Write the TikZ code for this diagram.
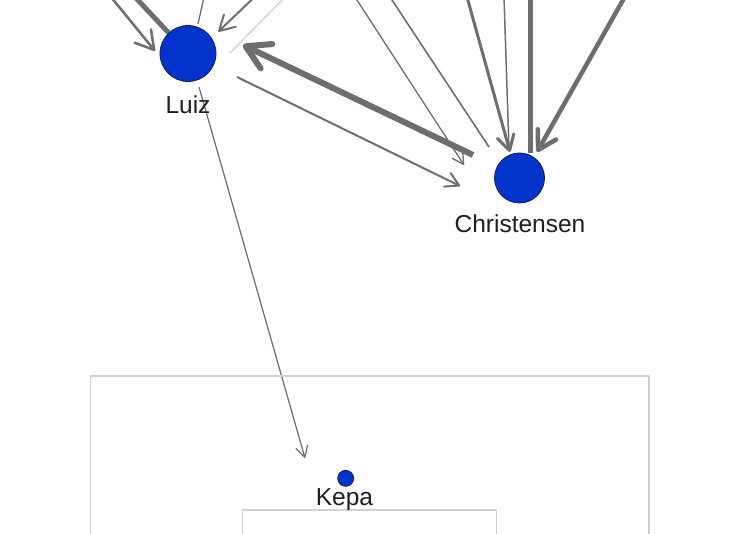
\documentclass[tikz,border=0pt]{standalone}
\usepackage{fontspec}
\setmainfont{Liberation Sans}
\usetikzlibrary{arrows.meta}
\definecolor{edgec}{RGB}{110,110,110}
\definecolor{faintc}{RGB}{200,200,200}
\definecolor{vblue}{RGB}{2,52,204}
\definecolor{vborder}{RGB}{20,30,90}
\definecolor{boxc}{RGB}{210,210,210}
\pgfdeclarelayer{back}
\pgfdeclarelayer{bg}
\pgfsetlayers{back,bg,main}
\begin{document}
\begin{tikzpicture}[x=1pt,y=-1pt,
  vertex/.style={circle,fill=vblue,draw=vborder,line width=0.8pt,inner sep=0pt},
  lbl/.style={anchor=base,font=\fontsize{24.5}{29}\selectfont,text=black!88,inner sep=0pt},
  edg/.style={draw=edgec,line cap=butt},
  pitch/.style={draw=boxc,line width=1.5pt},
  tipA/.style={-{Straight Barb[length=11pt,width=12pt,round]}},
  tipB/.style={-{Straight Barb[length=13pt,width=15pt,round]}},
  tipC/.style={-{Straight Barb[length=15pt,width=17pt,round]}},
  tipD/.style={-{Straight Barb[length=18pt,width=21pt,round]}},
  tipE/.style={-{Straight Barb[length=23pt,width=27pt,round]}}
]
\useasboundingbox (0,0) rectangle (730,534);
\clip (0,0) rectangle (730,534);
\begin{pgfonlayer}{back}
\fill[white] (0,0) rectangle (730,534);
\end{pgfonlayer}

% pitch lines
\draw[pitch] (90.7,560) -- (90.7,376) -- (649,376) -- (649,560);
\draw[pitch] (242.7,560) -- (242.7,510) -- (496.7,510) -- (496.7,560);

% vertices
\node[vertex,minimum size=56pt] (luiz) at (188,53.5) {};
\node[vertex,minimum size=50pt] (chr) at (519.5,178) {};
\node[vertex,minimum size=16pt] (kepa) at (345.7,478.3) {};

% labels
\node[lbl] (luizl) at (188,113.5) {Luiz};
\node[lbl] (chrl) at (520,233) {Christensen};
\node[lbl] (kepal) at (344.5,505) {Kepa};

% free ends beyond the top edge
\coordinate (t1) at (111,-3);
\coordinate (t2) at (135,-3);
\coordinate (t3) at (204,-3);
\coordinate (t4) at (254.5,-3);
\coordinate (t5) at (285,-3);
\coordinate (ta) at (355,-3);
\coordinate (tb) at (390,-3);
\coordinate (tc) at (467,-3);
\coordinate (td) at (504,-3);
\coordinate (te) at (530,-3);
\coordinate (tf) at (624.7,-3);

\begin{pgfonlayer}{bg}
% edges around Luiz
\draw[edg,line width=2.5pt,tipD] (t1) -- ([shift={(-33,-2.5)}]luiz.center);
\draw[edg,line width=5pt] (t2) -- (luiz);
\draw[edg,line width=1.3pt] ([shift={(10,-29.5)}]luiz.center) -- (t3);
\draw[edg,line width=2pt,tipC] (t4) -- ([shift={(30.3,-21.8)}]luiz.center);
\draw[draw=faintc,line width=1pt] ([shift={(42,-0.5)}]luiz.center) -- (t5);
\draw[edg,line width=6pt,tipE] ([shift={(-46.5,-23)}]chr.center) -- ([shift={(55,-8.5)}]luiz.center);
\draw[edg,line width=2pt,tipB] ([shift={(49,23.5)}]luiz.center) -- ([shift={(-59.5,8)}]chr.center);
\draw[edg,line width=1.2pt,tipA] ([shift={(11,33.5)}]luiz.center) -- ([shift={(-40.7,-20.3)}]kepa.center);
% edges around Christensen
\draw[edg,line width=1.3pt,tipA] (ta) -- ([shift={(-55.5,-13)}]chr.center);
\draw[edg,line width=1.6pt] ([shift={(-30.5,-31)}]chr.center) -- (tb);
\draw[edg,line width=3pt,tipC] (tc) -- ([shift={(-9.5,-26)}]chr.center);
\draw[edg,line width=1.5pt] (td) -- ([shift={(-10.5,-29)}]chr.center);
\draw[edg,line width=5pt] (te) -- ([shift={(10.5,-25)}]chr.center);
\draw[edg,line width=4.5pt,tipD] (tf) -- ([shift={(17.5,-26)}]chr.center);
\end{pgfonlayer}
\end{tikzpicture}
\end{document}
